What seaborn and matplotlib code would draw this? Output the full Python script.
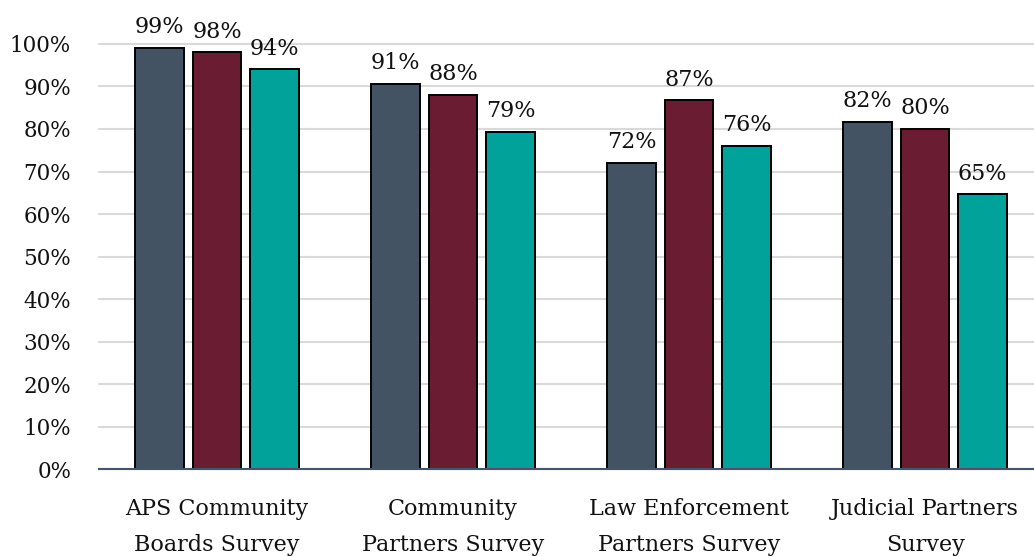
import pandas as pd
import matplotlib
matplotlib.use("Agg")
import matplotlib.pyplot as plt
import seaborn as sns

# data (percent)
surveys = ["APS Community\nBoards Survey", "Community\nPartners Survey",
           "Law Enforcement\nPartners Survey", "Judicial Partners\nSurvey"]
series = ["Series 1", "Series 2", "Series 3"]
series1 = [99, 90.6, 72, 81.6]
series2 = [98, 88, 86.7, 80]
series3 = [94, 79.4, 76, 64.6]
colors = ["#435364", "#6A1C32", "#01A29A"]

df = pd.DataFrame({
    "survey": surveys * 3,
    "series": [s for s in series for _ in surveys],
    "pct": series1 + series2 + series3,
})

sns.set_style("white")
plt.rcParams["font.family"] = ["DejaVu Serif"]

fig = plt.figure(figsize=(10.34, 5.56), dpi=100)
ax = fig.add_axes([0.0957, 0.156, 0.904, 0.765])

sns.barplot(data=df, x="survey", y="pct", hue="series", order=surveys,
            hue_order=series, palette=colors, saturation=1, width=0.731,
            gap=0.16, edgecolor="black", linewidth=1.4, legend=False,
            ax=ax, zorder=3)

for c in ax.containers:
    ax.bar_label(c, fmt=lambda v: f"{v:.0f}%", padding=7, fontsize=16,
                 color="#111111")

ax.set_ylim(0, 100)
ax.set_xlim(-0.5, 3.46)
ax.set_yticks(range(0, 101, 10))
ax.set_yticklabels([f"{t}%" for t in range(0, 101, 10)])
ax.yaxis.grid(True, color="#d9d9d9", linewidth=1.5, zorder=0)
for g in ax.get_ygridlines():
    g.set_clip_on(False)
ax.set_axisbelow(True)
for s in ["top", "right", "left"]:
    ax.spines[s].set_visible(False)
ax.spines["bottom"].set_color("#44546A")
ax.spines["bottom"].set_linewidth(1.5)
ax.spines["bottom"].set_zorder(4)
ax.tick_params(axis="y", length=0, pad=20, labelsize=15.5, labelcolor="#111111")
ax.tick_params(axis="x", length=0, pad=21, labelsize=16, labelcolor="#111111")
for lbl in ax.get_xticklabels():
    lbl.set_linespacing(1.8)
ax.set_xlabel("")
ax.set_ylabel("")

fig.savefig("out.png", dpi=100)
